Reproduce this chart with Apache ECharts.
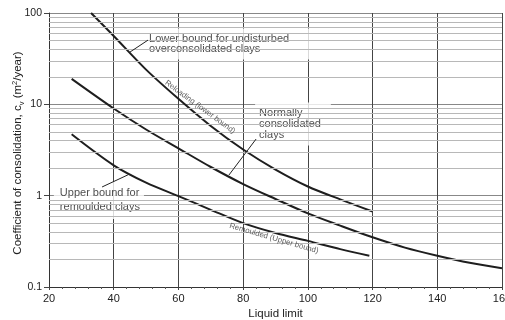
<!DOCTYPE html>
<html><head><meta charset="utf-8">
<script src="https://cdn.jsdelivr.net/npm/echarts@6/dist/echarts.min.js"></script>
<style>html,body{margin:0;padding:0;background:#fff;overflow:hidden}#c{width:505px;height:320px}</style>
</head><body><div id="c"></div>
<script>
// ---- data ----
const xTicks = [20, 40, 60, 80, 100, 120, 140, 160];
const yTicks = [0.1, 1, 10, 100];
const minorGridValues = [0.2,0.3,0.4,0.5,0.6,0.7,0.8,0.9,2,3,4,5,6,7,8,9,20,30,40,50,60,70,80,90];

const lowerBoundX = [33, 40, 50, 60, 70, 80, 90, 100, 110, 120];
const lowerBoundY = [100, 56, 24, 11.5, 5.8, 3.2, 1.93, 1.26, 0.91, 0.67];

const normalX = [27, 40, 50, 60, 70, 80, 90, 100, 110, 120, 130, 140, 150, 160];
const normalY = [19, 9.0, 5.3, 3.3, 2.06, 1.34, 0.92, 0.64, 0.47, 0.35, 0.27, 0.22, 0.184, 0.16];

const remouldedX = [27, 40, 50, 60, 70, 80, 90, 100, 110, 119];
const remouldedY = [4.7, 2.15, 1.39, 0.99, 0.70, 0.50, 0.39, 0.32, 0.26, 0.22];

const boxLabels = ['Lower bound for undisturbed\noverconsolidated clays', 'Normally\nconsolidated\nclays', 'Upper bound for\nremoulded clays'];
const boxAnchors = [[50.0, 45.8], [83.7, 6.1], [21.5, 0.887]];
const leaderFrom = [[50.6, 50.5], [84.0, 4.17], [36.4, 1.245]];
const leaderTo = [[45.0, 37.3], [75.6, 1.68], [44.4, 1.69]];

const curveLabels = ['Reloading (lower bound)', 'Remoulded (Upper bound)'];
const curveLabelAnchors = [[66.7, 9.35], [89.5, 0.34]];
const curveLabelAngles = [-36, -16];

const xName = 'Liquid limit';

// ---- chart ----
const FONT = '"Liberation Sans", Arial, sans-serif';
const zip = (xs, ys) => xs.map((x, i) => [x, ys[i]]);
const curveStyle = { color: '#1e1e1e', width: 2 };
const boxPads = [[5, 20, 5, 3], [5, 10, 5, 4], [3, 4, 6, 6]];
const boxLineHeights = [10.5, 11, 14];

const chart = echarts.init(document.getElementById('c'), null, { renderer: 'canvas' });
chart.setOption({
  animation: false,
  backgroundColor: '#fff',
  textStyle: { fontFamily: FONT },
  grid: { left: 49, right: 3, top: 13, bottom: 33, containLabel: false, outerBoundsMode: 'none' },
  xAxis: {
    type: 'value', min: xTicks[0], max: xTicks[xTicks.length - 1], interval: 20,
    name: xName, nameLocation: 'middle', nameGap: 21, nameMoveOverlap: false,
    nameTextStyle: { fontSize: 11.5, color: '#222', fontFamily: FONT },
    axisLine: { show: true, lineStyle: { color: '#333', width: 1 } },
    axisTick: { show: true, length: 3, lineStyle: { color: '#444' } },
    minorTick: { show: true, splitNumber: 5, length: 2, lineStyle: { color: '#555' } },
    axisLabel: { fontSize: 11, color: '#222', margin: 6, fontFamily: FONT, showMaxLabel: true, formatter: v => String(v) },
    splitLine: { show: true, lineStyle: { color: '#444', width: 1 } }
  },
  yAxis: {
    type: 'log', logBase: 10, min: yTicks[0], max: yTicks[yTicks.length - 1],
    name: '{a|Coefficient of consolidation, c}{sub|v}{a| (m}{sup|2}{a|/year)}',
    nameLocation: 'middle', nameGap: 31, nameMoveOverlap: false,
    nameTextStyle: {
      fontSize: 11.5, color: '#222', fontFamily: FONT, align: 'center', verticalAlign: 'middle',
      padding: [0, 6, 0, 0],
      rich: {
        a: { fontSize: 11.5, color: '#222', fontFamily: FONT, lineHeight: 15 },
        sub: { fontSize: 7.5, color: '#222', fontFamily: FONT, verticalAlign: 'bottom', lineHeight: 15 },
        sup: { fontSize: 7.5, color: '#222', fontFamily: FONT, verticalAlign: 'top', lineHeight: 15 }
      }
    },
    axisLine: { show: true, lineStyle: { color: '#333', width: 1 } },
    axisTick: { show: true, length: 5, lineStyle: { color: '#444' } },
    axisLabel: { fontSize: 10.5, color: '#222', margin: 7, fontFamily: FONT, formatter: v => String(v) },
    splitLine: { show: true, lineStyle: { color: '#888', width: 1 } }
  },
  series: [
    {
      name: 'minor grid', type: 'line', data: [], silent: true, z: 1,
      markLine: {
        silent: true, symbol: ['none', 'none'], label: { show: false }, animation: false,
        lineStyle: { color: '#b8b8b8', width: 1, type: 'solid' },
        data: minorGridValues.map(v => ({ yAxis: v }))
      }
    },
    {
      name: 'boxes', type: 'scatter', symbolSize: 0, z: 2, silent: true, clip: false,
      data: boxLabels.map((t, i) => ({
        value: boxAnchors[i],
        label: {
          show: true, formatter: t, position: 'inside', align: 'left', verticalAlign: 'middle',
          fontSize: 11, lineHeight: boxLineHeights[i], color: '#222', fontFamily: FONT,
          backgroundColor: '#fff', padding: boxPads[i]
        }
      })),
      markLine: {
        silent: true, animation: false, symbol: ['none', 'arrow'], symbolSize: [0, 6],
        label: { show: false },
        lineStyle: { color: '#222', width: 1, type: 'solid' },
        data: leaderFrom.map((f, i) => [{ coord: f }, { coord: leaderTo[i] }])
      }
    },
    { name: 'lower', type: 'line', data: zip(lowerBoundX, lowerBoundY), smooth: 0.3, symbol: 'none', lineStyle: curveStyle, z: 3 },
    { name: 'normal', type: 'line', data: zip(normalX, normalY), smooth: 0.3, symbol: 'none', lineStyle: curveStyle, z: 3 },
    { name: 'remoulded', type: 'line', data: zip(remouldedX, remouldedY), smooth: 0.3, symbol: 'none', lineStyle: curveStyle, z: 3 },
    {
      name: 'curve labels', type: 'scatter', symbolSize: 0, z: 5, silent: true,
      data: curveLabels.map((t, i) => ({
        value: curveLabelAnchors[i],
        label: {
          show: true, formatter: t, position: 'inside', rotate: curveLabelAngles[i],
          align: 'center', verticalAlign: 'middle', fontSize: 7.8, color: '#333', fontFamily: FONT
        }
      }))
    }
  ]
});
</script></body></html>
